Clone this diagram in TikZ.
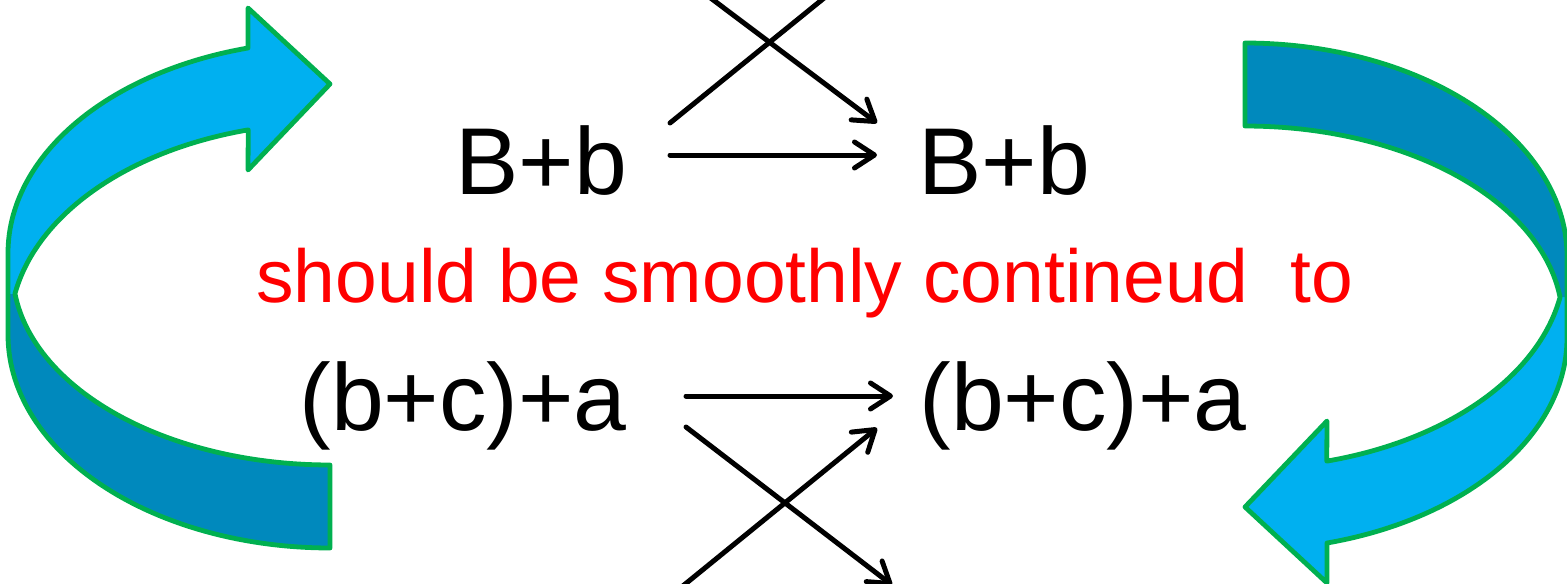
\documentclass[tikz,border=0pt]{standalone}
\usepackage{fontspec}
\setmainfont{Liberation Sans}
\usetikzlibrary{arrows.meta}
\definecolor{lightband}{RGB}{0,176,240}
\definecolor{darkband}{RGB}{0,137,189}
\definecolor{rim}{RGB}{0,176,80}
\newcommand{\loopband}{%
  \fill[lightband] (15,294)
    -- plot[domain=190:255.2,samples=60] ({330+320*cos(\x)},{330+207*sin(\x)})
    -- (248,170) -- (330,84) -- (248,8) -- (248,48)
    -- plot[domain=255:180,samples=60] ({330+322*cos(\x)},{253+212*sin(\x)})
    -- (8,294) -- cycle;
  \fill[darkband] (15,294)
    -- plot[domain=173:90,samples=60] ({330+317.4*cos(\x)},{270+195*sin(\x)})
    -- (330,548)
    -- plot[domain=90:180,samples=60] ({330+322*cos(\x)},{335+213*sin(\x)})
    -- (8,294) -- cycle;
  \draw[rimline] (248,48)
    -- plot[domain=255:180,samples=60] ({330+322*cos(\x)},{253+212*sin(\x)})
    -- (8,335)
    -- plot[domain=180:90,samples=60] ({330+322*cos(\x)},{335+213*sin(\x)})
    -- (330,465)
    -- plot[domain=90:173,samples=60] ({330+317.4*cos(\x)},{270+195*sin(\x)})
    -- plot[domain=190:255.2,samples=60] ({330+320*cos(\x)},{330+207*sin(\x)})
    -- (248,170) -- (330,84) -- (248,8) -- cycle;
}
\tikzset{
  rimline/.style={draw=rim, line width=2.4pt, line join=round},
  bigtext/.style={inner sep=0pt, anchor=base west, font=\fontsize{47.5}{57}\selectfont},
  redtext/.style={inner sep=0pt, anchor=base west, text=red, font=\fontsize{37.5}{45}\selectfont},
  link/.style={line width=2.5pt, line cap=round},
  linkarrow/.style={link, -{Straight Barb[length=10pt,width=13pt,round]}}
}
\begin{document}
\begin{tikzpicture}[x=0.5pt,y=-0.5pt]
\useasboundingbox (0,0) rectangle (1567,583);
\clip (0,0) rectangle (1567,583);
% curved arrows
\loopband
\begin{scope}[rotate around={180:(787.5,295.5)}]
\loopband
\end{scope}
% texts
\node[bigtext] (bbL) at (455,194) {B+b};
\node[bigtext] (bbR) at (918,194) {B+b};
\node[redtext] (msg) at (256,302) {should be smoothly contineud\ \ to};
\node[bigtext] (sumL) at (299,430) {(b+c)+a};
\node[bigtext] (sumR) at (919,430) {(b+c)+a};
% connector end points
\coordinate (t1s) at (670,155);
\coordinate (t1e) at (877,155);
\coordinate (t2s) at (660,-40);
\coordinate (t2e) at (877,123);
\coordinate (t3s) at (670,123);
\coordinate (t3e) at (871,-40);
\coordinate (b1s) at (686,396);
\coordinate (b1e) at (893,396);
\coordinate (b2s) at (641,620);
\coordinate (b2e) at (877,428);
\coordinate (b3s) at (686,427);
\coordinate (b3e) at (892,585);
% connectors
\draw[linkarrow] (t1s) -- (t1e);
\draw[linkarrow] (t2s) -- (t2e);
\draw[link] (t3s) -- (t3e);
\draw[linkarrow] (b1s) -- (b1e);
\draw[linkarrow] (b2s) -- (b2e);
\draw[linkarrow] (b3s) -- (b3e);
\end{tikzpicture}
\end{document}
